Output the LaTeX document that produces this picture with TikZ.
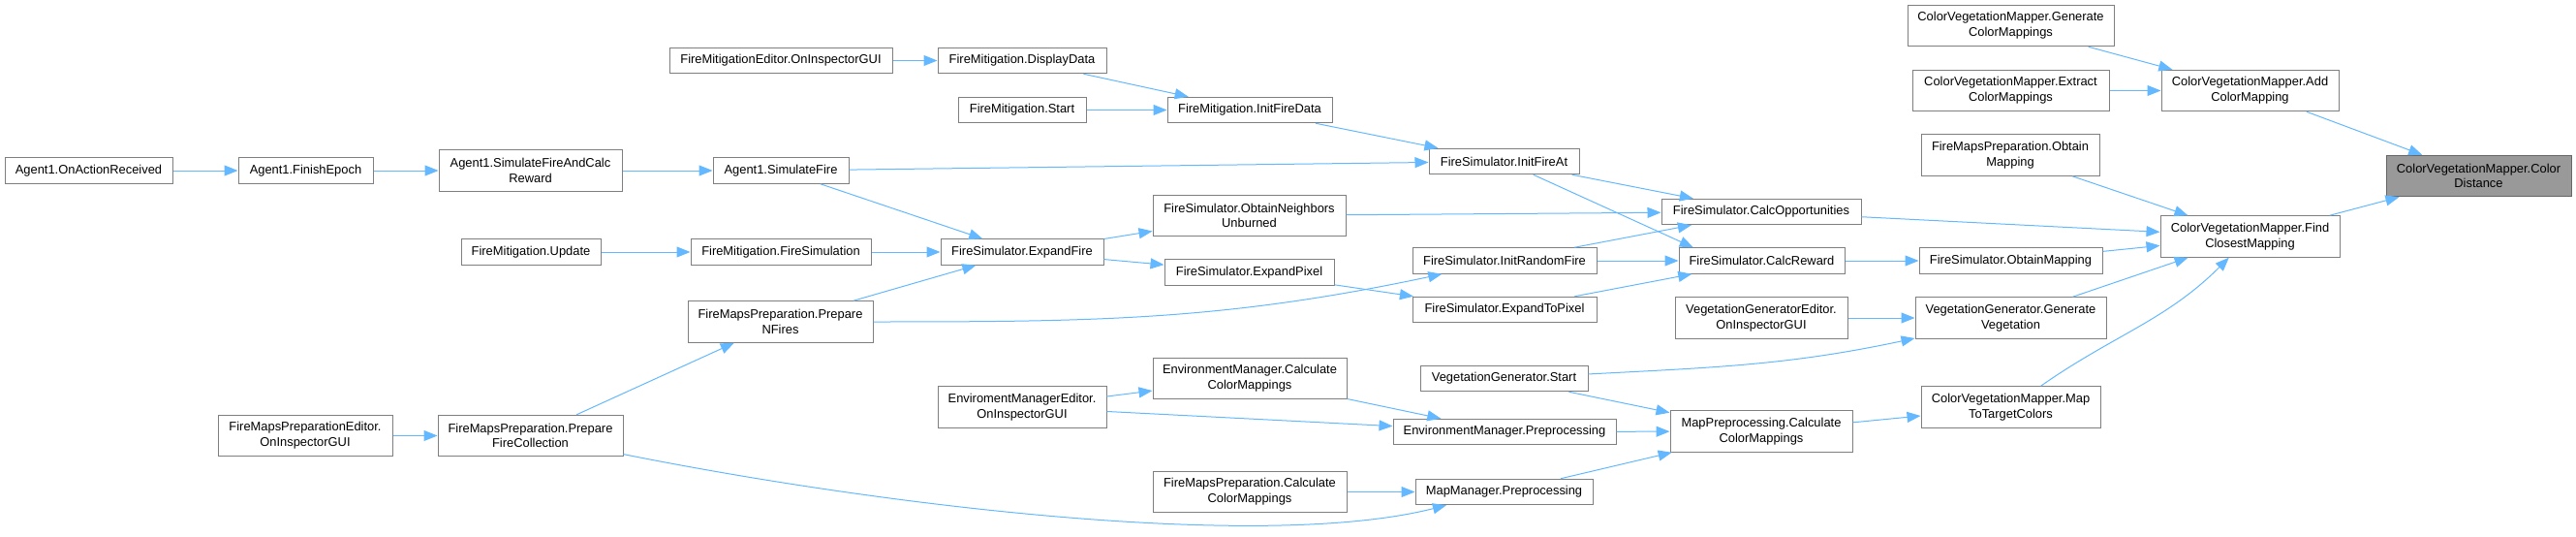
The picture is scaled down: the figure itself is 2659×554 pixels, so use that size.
\documentclass[tikz,border=0pt]{standalone}
\usepackage{fontspec}
\setmainfont{Liberation Sans}
\usetikzlibrary{arrows.meta,calc}
\definecolor{edgeblue}{HTML}{63B8FF}
\definecolor{boxline}{HTML}{7F7F7F}
\definecolor{hlfill}{HTML}{999999}
\definecolor{hlline}{HTML}{666666}
\tikzset{
  fn/.style={draw=boxline,fill=white,line width=1pt,inner sep=0pt,align=center,
    minimum height=26.5pt,minimum width=#1},
  fn2/.style={fn=#1,minimum height=42.5pt},
  hl/.style={fill=hlfill,draw=hlline},
  call/.style={edgeblue,line width=1pt,-{Triangle[length=14pt,width=11pt]}}
}

\begin{document}
\begin{tikzpicture}[x=1pt,y=-1pt,font=\fontsize{12.9}{15.7}\selectfont]
  \useasboundingbox (0,0) rectangle (2659,554);
  \node[fn=173pt] (recv) at (91.5,176) {Agent1.OnActionReceived};
  \node[fn=139pt] (finish) at (315.5,176) {Agent1.FinishEpoch};
  \node[fn2=189pt] (simcalc) at (547.5,176) {Agent1.SimulateFireAndCalc\\Reward};
  \node[fn=140pt] (simfire) at (806,176) {Agent1.SimulateFire};
  \node[fn=230pt] (fmedit) at (806,62.5) {FireMitigationEditor.OnInspectorGUI};
  \node[fn=174pt] (display) at (1055,62.5) {FireMitigation.DisplayData};
  \node[fn=132pt] (fmstart) at (1055,113.5) {FireMitigation.Start};
  \node[fn=170pt] (initdata) at (1290,113.5) {FireMitigation.InitFireData};
  \node[fn=144pt] (update) at (548,260) {FireMitigation.Update};
  \node[fn=186pt] (firesim) at (806,260) {FireMitigation.FireSimulation};
  \node[fn=168pt] (expfire) at (1055,260) {FireSimulator.ExpandFire};
  \node[fn2=199pt] (neigh) at (1289.5,222.5) {FireSimulator.ObtainNeighbors\\Unburned};
  \node[fn=175pt] (exppix) at (1289.5,281) {FireSimulator.ExpandPixel};
  \node[fn=155pt] (initat) at (1552.5,166.5) {FireSimulator.InitFireAt};
  \node[fn=206pt] (calcopp) at (1818,218.5) {FireSimulator.CalcOpportunities};
  \node[fn=190pt] (initrnd) at (1553,269) {FireSimulator.InitRandomFire};
  \node[fn=171pt] (calcrew) at (1818.5,269) {FireSimulator.CalcReward};
  \node[fn=190pt] (exptopix) at (1553,319.5) {FireSimulator.ExpandToPixel};
  \node[fn2=191pt] (nfires) at (805.5,332) {FireMapsPreparation.Prepare\\NFires};
  \node[fn2=180pt] (fmpedit) at (315,449.5) {FireMapsPreparationEditor.\\OnInspectorGUI};
  \node[fn2=191pt] (collect) at (547.5,449.5) {FireMapsPreparation.Prepare\\FireCollection};
  \node[fn2=174pt] (emedit) at (1055,420) {EnviromentManagerEditor.\\OnInspectorGUI};
  \node[fn2=200pt] (emcalc) at (1290,390.5) {EnvironmentManager.Calculate\\ColorMappings};
  \node[fn2=200pt] (fmpcalc) at (1290,507.5) {FireMapsPreparation.Calculate\\ColorMappings};
  \node[fn=230pt] (empre) at (1553,445.5) {EnvironmentManager.Preprocessing};
  \node[fn=183pt] (mmpre) at (1552.5,507.5) {MapManager.Preprocessing};
  \node[fn=173pt] (vgstart) at (1552.5,390.5) {VegetationGenerator.Start};
  \node[fn2=188pt] (mpcalc) at (1818,445) {MapPreprocessing.Calculate\\ColorMappings};
  \node[fn2=178pt] (vgedit) at (1818,328) {VegetationGeneratorEditor.\\OnInspectorGUI};
  \node[fn2=197pt] (vggen) at (2075.5,328) {VegetationGenerator.Generate\\Vegetation};
  \node[fn2=185pt] (totarget) at (2075.5,420) {ColorVegetationMapper.Map\\ToTargetColors};
  \node[fn=189pt] (fsobtain) at (2075.5,269) {FireSimulator.ObtainMapping};
  \node[fn2=184pt] (fmpobtain) at (2075,160) {FireMapsPreparation.Obtain\\Mapping};
  \node[fn2=213pt] (cvmgen) at (2075.5,26.5) {ColorVegetationMapper.Generate\\ColorMappings};
  \node[fn2=203pt] (cvmext) at (2075.5,93.5) {ColorVegetationMapper.Extract\\ColorMappings};
  \node[fn2=183pt] (cvmadd) at (2322.5,93.5) {ColorVegetationMapper.Add\\ColorMapping};
  \node[fn2=185pt] (cvmfind) at (2322.5,244) {ColorVegetationMapper.Find\\ClosestMapping};
  \node[fn2=191pt,hl] (cvmdist) at (2558.5,181.5) {ColorVegetationMapper.Color\\Distance};
  \foreach \a/\b in {recv/finish,finish/simcalc,simcalc/simfire,simfire/initat,simfire/expfire,
      fmedit/display,display/initdata,fmstart/initdata,initdata/initat,update/firesim,
      firesim/expfire,nfires/expfire,expfire/neigh,expfire/exppix,exppix/exptopix,
      neigh/calcopp,initat/calcopp,initrnd/calcopp,initrnd/calcrew,exptopix/calcrew,
      calcopp/cvmfind,calcrew/fsobtain,fsobtain/cvmfind,fmpobtain/cvmfind,vggen/cvmfind,
      cvmgen/cvmadd,cvmext/cvmadd,cvmadd/cvmdist,cvmfind/cvmdist,vgedit/vggen,
      vgstart/mpcalc,empre/mpcalc,mmpre/mpcalc,mpcalc/totarget,emcalc/empre,
      emedit/emcalc,emedit/empre,fmpcalc/mmpre,collect/nfires,fmpedit/collect}{
    \draw[call] (\a) -- (\b);
  }
  \draw[call] (initat) -- (calcrew.169);
  \draw[call] (nfires) to[out=0,in=192] (initrnd);
  \draw[call] (vgstart) to[out=3,in=192] (vggen);
  \draw[call] (totarget) to[out=35,in=-135] (cvmfind);
  \draw[call] (collect) .. controls (900,520) and (1300,570) .. (mmpre.193);
\end{tikzpicture}
\end{document}
